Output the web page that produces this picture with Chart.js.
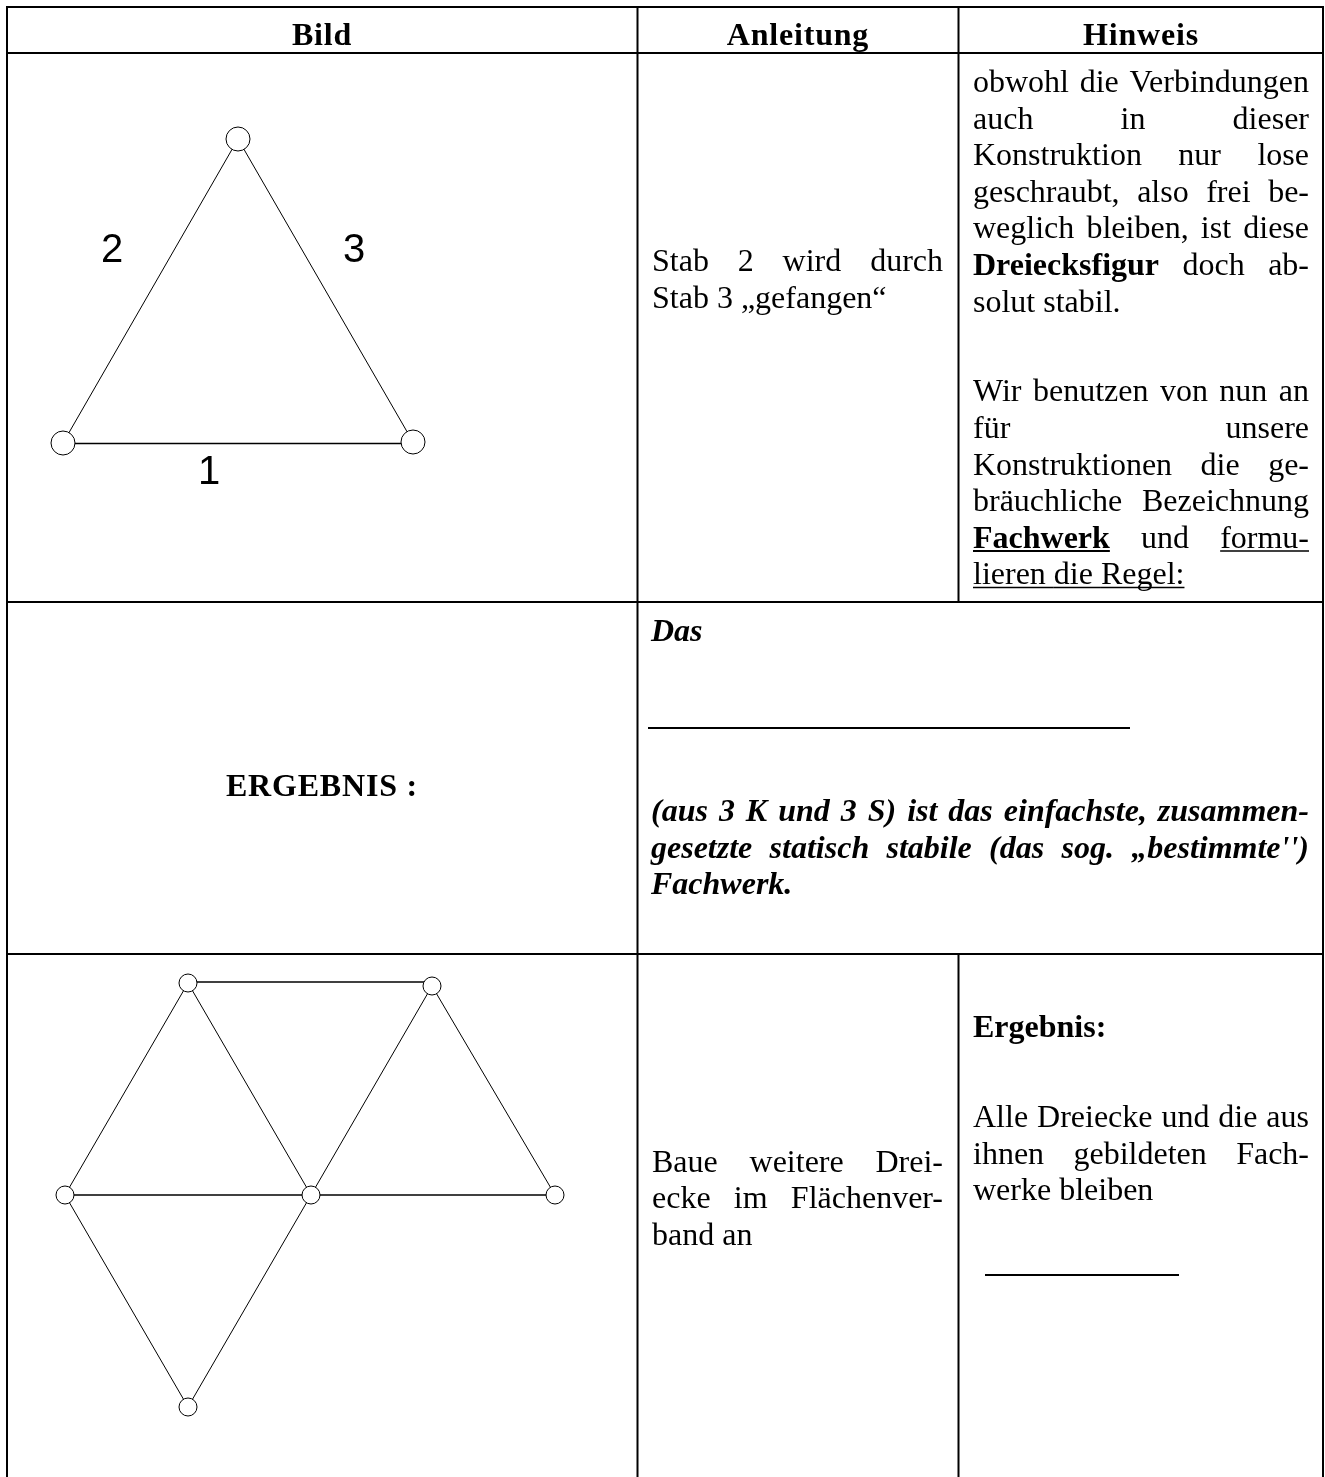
<!DOCTYPE html>
<html lang="de"><head><meta charset="utf-8">
<style>html,body{margin:0;padding:0;background:#fff;overflow:hidden}canvas{display:block}</style>
<script src="https://cdn.jsdelivr.net/npm/chart.js@4/dist/chart.umd.min.js"></script>
</head><body><canvas id="c" width="1325" height="1477"></canvas>
<script>
// Diagram 1: triangle
const triNodes = [{x:238,y:139},{x:63,y:443},{x:413,y:442}];
const triMembers = [[{x:238,y:139},{x:63,y:443}],[{x:238,y:139},{x:413,y:442}]];
const triChord = [[{x:63,y:443.5},{x:413,y:443.5}]];
// Diagram 2: framework
const frameNodes = [{x:188,y:983},{x:432,y:986},{x:65,y:1195},{x:311,y:1195},{x:555,y:1195},{x:188,y:1407}];
const frameMembers = [
 [{x:188,y:983},{x:65,y:1195}],[{x:188,y:983},{x:311,y:1195}],
 [{x:432,y:986},{x:311,y:1195}],[{x:432,y:986},{x:555,y:1195}],
 [{x:65,y:1195},{x:188,y:1407}],[{x:311,y:1195},{x:188,y:1407}]];
const frameChords = [[{x:188,y:982},{x:432,y:982}],[{x:65,y:1195},{x:555,y:1195}]];
// Table rules
const tableRules = [
 [{x:6,y:7},{x:1324,y:7}],[{x:6,y:53},{x:1324,y:53}],[{x:6,y:602},{x:1324,y:602}],[{x:6,y:954},{x:1324,y:954}],
 [{x:7,y:6},{x:7,y:1477}],[{x:637.5,y:6},{x:637.5,y:1477}],[{x:1323,y:6},{x:1323,y:1477}],
 [{x:958.5,y:6},{x:958.5,y:602}],[{x:958.5,y:954},{x:958.5,y:1477}]];
const blankRules = [[{x:648,y:728},{x:1130,y:728}],[{x:985,y:1275},{x:1179,y:1275}]];
// Text: [string, left, baseline, right-if-justified]. * bold word, _ underlined word
const headerCells = [["Bild",322,45],["Anleitung",798,45],["Hinweis",1141,45],["ERGEBNIS :",322,796]];
const stabLabels = [["2",112,262],["3",354,262],["1",209,484]];
const bodyLines = [
 ["obwohl die Verbindungen",973,92,1309],["auch in dieser",973,128.5,1309],["Konstruktion nur lose",973,165,1309],
 ["geschraubt, also frei be-",973,201.5,1309],["weglich bleiben, ist diese",973,238,1309],["*Dreiecksfigur doch ab-",973,275,1309],
 ["solut stabil.",973,312],["Wir benutzen von nun an",973,401,1309],["für unsere",973,438,1309],
 ["Konstruktionen die ge-",973,474.5,1309],["bräuchliche Bezeichnung",973,511,1309],["*_Fachwerk und _formu-",973,547.5,1309],
 ["_lieren _die _Regel:",973,584],
 ["Stab 2 wird durch",652,271,943],["Stab 3 „gefangen“",652,307.5],
 ["Baue weitere Drei-",652,1172,943],["ecke im Flächenver-",652,1208,943],["band an",652,1244.5],
 ["*Ergebnis:",973,1037],["Alle Dreiecke und die aus",973,1127,1309],["ihnen gebildeten Fach-",973,1164,1309],["werke bleiben",973,1200]];
const italicLines = [
 ["Das",651,641],["(aus 3 K und 3 S) ist das einfachste, zusammen-",651,821,1309],
 ["gesetzte statisch stabile (das sog. „bestimmte'')",651,857.5,1309],["Fachwerk.",651,894]];

const ink = '#000';
const lineSet = (pts,w) => ({data:pts,showLine:true,borderColor:ink,borderWidth:w,pointRadius:0,fill:false,tension:0});
const nodeSet = (pts,r) => ({data:pts,showLine:false,pointRadius:r,pointBorderWidth:1,pointBorderColor:ink,pointBackgroundColor:'#fff'});
const SERIF = '"Liberation Serif","Times New Roman",serif';
const SIZE = 32;

const textPlugin = {id:'tableText',afterDatasetsDraw(chart){
  const ctx=chart.ctx, X=v=>chart.scales.x.getPixelForValue(v), Y=v=>chart.scales.y.getPixelForValue(v);
  ctx.save(); ctx.fillStyle=ink; ctx.strokeStyle=ink; ctx.textBaseline='alphabetic';
  ctx.textAlign='center'; ctx.font=`bold ${SIZE}px ${SERIF}`;
  headerCells.forEach(([s,x,y])=>{ctx.letterSpacing='0.8px';ctx.fillText(s,X(x),Y(y));ctx.letterSpacing='0px';});
  ctx.font=`40px "Liberation Sans",Arial,sans-serif`;
  stabLabels.forEach(([s,x,y])=>ctx.fillText(s,X(x),Y(y)));
  ctx.textAlign='left';
  const draw=(line,base)=>{
    const [s,x0,y,x1]=line;
    const words=s.split(' ').map(w=>{const bold=w.includes('*'),under=w.includes('_');return{t:w.replace(/[*_]/g,''),bold,under};});
    const fontOf=w=>(w.bold?'bold ':'')+base;
    let sum=0; words.forEach(w=>{ctx.font=fontOf(w);w.w=ctx.measureText(w.t).width;sum+=w.w;});
    ctx.font=base; const space=ctx.measureText(' ').width;
    const gap=x1&&words.length>1?(x1-x0-sum)/(words.length-1):space;
    let cx=x0;
    words.forEach((w,i)=>{
      ctx.font=fontOf(w); ctx.fillText(w.t,X(cx),Y(y));
      if(w.under){
        const next=words[i+1], end=cx+w.w+((next&&next.under)?gap:0);
        ctx.lineWidth=w.bold?2:1.3; ctx.beginPath(); ctx.moveTo(X(cx),Y(y+3.5)); ctx.lineTo(X(end),Y(y+3.5)); ctx.stroke();
      }
      cx+=w.w+gap;
    });
  };
  bodyLines.forEach(l=>draw(l,`${SIZE}px ${SERIF}`));
  italicLines.forEach(l=>draw(l,`italic bold ${SIZE}px ${SERIF}`));
  ctx.restore();
}};

new Chart(document.getElementById('c'),{
  type:'scatter',
  data:{datasets:[
    nodeSet(triNodes,12), nodeSet(frameNodes,9),
    ...triMembers.map(p=>lineSet(p,1)), ...frameMembers.map(p=>lineSet(p,1)),
    ...triChord.map(p=>lineSet(p,1.5)), ...frameChords.map(p=>lineSet(p,1.5)),
    ...blankRules.map(p=>lineSet(p,2)), ...tableRules.map(p=>lineSet(p,2))
  ]},
  options:{
    responsive:false,animation:false,events:[],
    layout:{padding:0,autoPadding:false},
    plugins:{legend:{display:false},tooltip:{enabled:false},title:{display:false}},
    scales:{x:{type:'linear',display:false,min:0,max:1325},y:{type:'linear',display:false,min:0,max:1477,reverse:true}}
  },
  plugins:[textPlugin]
});
</script></body></html>
